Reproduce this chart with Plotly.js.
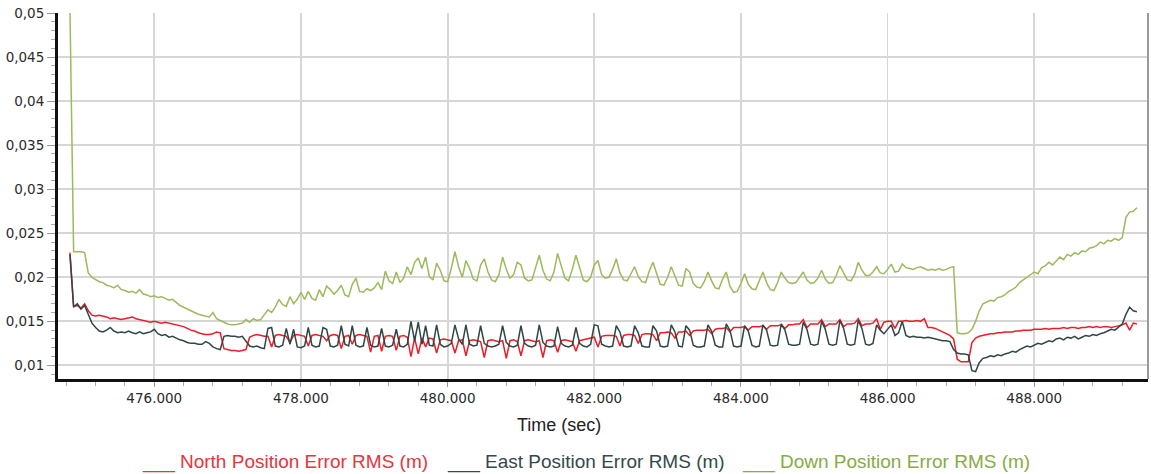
<!DOCTYPE html>
<html><head><meta charset="utf-8">
<script src="https://cdn.plot.ly/plotly-3.0.1.min.js"></script>
<style>html,body{margin:0;padding:0;background:#fff;}#chart{width:1151px;height:474px;}</style>
</head><body><div id="chart"></div>
<script>
// Series names (legend) and axis title
const seriesNames = ['North Position Error RMS (m)', 'East Position Error RMS (m)', 'Down Position Error RMS (m)'];
const xTitle = 'Time (sec)';
// Regular sampling of the time axis (seconds)
const timeStart = 474850;
const timeStep = 50;

const northRMS = [
.0228,.0167,.0168,.0165,.0170,.0162,.0157,.0156,.0157,.0156,
.0155,.0153,.0154,.0153,.0152,.0153,.0154,.0155,.0153,.0152,
.0151,.0150,.0149,.0150,.0149,.0148,.0149,.0148,.0147,.0146,
.0145,.0144,.0142,.0140,.0139,.0137,.0136,.0135,.0135,.0136,
.0138,.0137,.0119,.0118,.0117,.0117,.0116,.0117,.0118,.0132,
.0134,.0135,.0134,.0133,.0133,.0121,.0134,.0135,.0134,.0133,
.0126,.0134,.0135,.0134,.0133,.0122,.0134,.0135,.0134,.0133,
.0128,.0134,.0135,.0134,.0119,.0133,.0134,.0124,.0134,.0135,
.0134,.0133,.0115,.0133,.0134,.0116,.0133,.0134,.0133,.0117,
.0133,.0134,.0132,.0110,.0131,.0113,.0131,.0121,.0131,.0130,
.0114,.0129,.0130,.0129,.0128,.0114,.0128,.0129,.0111,.0128,
.0129,.0128,.0127,.0109,.0128,.0129,.0128,.0127,.0128,.0108,
.0128,.0129,.0127,.0111,.0128,.0129,.0128,.0127,.0128,.0109,
.0128,.0129,.0128,.0115,.0128,.0129,.0128,.0127,.0116,.0128,
.0129,.0130,.0131,.0132,.0121,.0133,.0134,.0134,.0134,.0133,
.0122,.0134,.0135,.0135,.0134,.0125,.0135,.0136,.0136,.0135,
.0128,.0137,.0137,.0138,.0137,.0131,.0138,.0138,.0139,.0134,
.0139,.0140,.0140,.0140,.0141,.0136,.0141,.0142,.0142,.0143,
.0138,.0143,.0143,.0143,.0144,.0140,.0144,.0144,.0144,.0145,
.0141,.0145,.0145,.0145,.0146,.0142,.0146,.0146,.0147,.0147,
.0152,.0143,.0147,.0147,.0147,.0152,.0144,.0147,.0147,.0147,
.0152,.0144,.0147,.0147,.0148,.0153,.0145,.0147,.0147,.0148,
.0153,.0141,.0149,.0150,.0150,.0142,.0150,.0150,.0151,.0150,
.0150,.0151,.0150,.0153,.0143,.0143,.0142,.0140,.0138,.0136,
.0134,.0130,.0107,.0104,.0104,.0104,.0126,.0131,.0133,.0134,
.0135,.0136,.0136,.0137,.0137,.0138,.0138,.0138,.0139,.0139,
.0140,.0140,.0140,.0141,.0141,.0141,.0142,.0141,.0142,.0142,
.0142,.0143,.0142,.0143,.0143,.0142,.0143,.0143,.0144,.0143,
.0144,.0143,.0144,.0144,.0143,.0144,.0145,.0146,.0148,.0140,
.0148,.0147
];

const eastRMS = [
.0226,.0166,.0170,.0164,.0168,.0158,.0148,.0143,.0139,.0138,
.0140,.0143,.0139,.0137,.0138,.0137,.0139,.0137,.0136,.0138,
.0136,.0137,.0138,.0141,.0136,.0134,.0135,.0132,.0133,.0131,
.0129,.0128,.0126,.0125,.0125,.0124,.0124,.0127,.0125,.0121,
.0119,.0118,.0133,.0134,.0133,.0133,.0132,.0133,.0128,.0122,
.0121,.0122,.0120,.0119,.0142,.0143,.0122,.0121,.0123,.0142,
.0124,.0141,.0121,.0120,.0122,.0143,.0123,.0121,.0122,.0143,
.0141,.0122,.0121,.0123,.0145,.0124,.0122,.0145,.0123,.0121,
.0122,.0143,.0123,.0121,.0122,.0142,.0122,.0121,.0123,.0141,
.0122,.0121,.0124,.0150,.0128,.0149,.0124,.0145,.0123,.0122,
.0146,.0124,.0121,.0122,.0125,.0146,.0130,.0124,.0146,.0124,
.0122,.0123,.0145,.0125,.0122,.0121,.0122,.0124,.0145,.0126,
.0122,.0121,.0123,.0145,.0125,.0122,.0121,.0123,.0146,.0126,
.0122,.0121,.0122,.0144,.0125,.0122,.0121,.0123,.0143,.0125,
.0122,.0121,.0124,.0146,.0145,.0124,.0122,.0121,.0122,.0145,
.0138,.0122,.0121,.0122,.0145,.0137,.0122,.0121,.0121,.0145,
.0139,.0122,.0121,.0122,.0146,.0138,.0122,.0121,.0145,.0140,
.0123,.0121,.0121,.0122,.0146,.0139,.0123,.0121,.0121,.0147,
.0140,.0122,.0121,.0122,.0145,.0139,.0123,.0121,.0122,.0146,
.0140,.0123,.0122,.0123,.0147,.0140,.0124,.0123,.0123,.0124,
.0149,.0141,.0124,.0123,.0124,.0150,.0141,.0124,.0123,.0124,
.0151,.0142,.0124,.0123,.0124,.0151,.0142,.0124,.0123,.0125,
.0146,.0140,.0136,.0141,.0146,.0134,.0137,.0150,.0134,.0132,
.0133,.0132,.0132,.0131,.0132,.0131,.0130,.0129,.0128,.0128,
.0127,.0118,.0114,.0113,.0113,.0112,.0094,.0093,.0103,.0108,
.0109,.0111,.0110,.0112,.0111,.0113,.0114,.0116,.0115,.0118,
.0120,.0122,.0121,.0123,.0125,.0124,.0126,.0128,.0127,.0130,
.0131,.0129,.0132,.0131,.0133,.0130,.0132,.0134,.0133,.0135,
.0134,.0136,.0137,.0139,.0141,.0140,.0143,.0147,.0158,.0166,
.0162,.0161
];

const downRMS = [
.0505,.0229,.0229,.0229,.0228,.0205,.0200,.0197,.0195,.0194,
.0191,.0190,.0188,.0191,.0186,.0185,.0183,.0184,.0182,.0186,
.0181,.0180,.0178,.0179,.0177,.0178,.0176,.0174,.0175,.0171,
.0168,.0166,.0164,.0162,.0160,.0158,.0157,.0156,.0155,.0160,
.0153,.0151,.0149,.0147,.0146,.0146,.0147,.0148,.0152,.0149,
.0153,.0151,.0152,.0158,.0163,.0160,.0166,.0175,.0169,.0167,
.0178,.0170,.0175,.0183,.0175,.0184,.0176,.0174,.0186,.0178,
.0190,.0186,.0181,.0185,.0191,.0180,.0178,.0192,.0199,.0184,
.0183,.0187,.0185,.0188,.0194,.0186,.0207,.0196,.0193,.0206,
.0194,.0199,.0212,.0203,.0217,.0222,.0210,.0223,.0201,.0197,
.0216,.0208,.0196,.0195,.0210,.0229,.0212,.0200,.0219,.0210,
.0198,.0196,.0214,.0221,.0206,.0197,.0195,.0203,.0223,.0209,
.0199,.0203,.0217,.0214,.0199,.0196,.0197,.0211,.0225,.0208,
.0198,.0196,.0206,.0227,.0213,.0199,.0196,.0209,.0225,.0211,
.0197,.0195,.0200,.0214,.0219,.0203,.0199,.0200,.0209,.0221,
.0205,.0197,.0196,.0204,.0212,.0201,.0195,.0194,.0207,.0217,
.0203,.0192,.0191,.0200,.0212,.0201,.0191,.0190,.0210,.0206,
.0193,.0189,.0188,.0195,.0206,.0196,.0188,.0187,.0198,.0206,
.0190,.0183,.0184,.0193,.0204,.0192,.0187,.0186,.0196,.0206,
.0194,.0186,.0185,.0194,.0206,.0199,.0194,.0193,.0194,.0200,
.0206,.0197,.0193,.0194,.0199,.0208,.0198,.0193,.0194,.0202,
.0213,.0205,.0197,.0196,.0203,.0217,.0208,.0202,.0202,.0206,
.0212,.0205,.0204,.0209,.0215,.0206,.0207,.0215,.0211,.0210,
.0209,.0211,.0212,.0210,.0208,.0209,.0208,.0210,.0208,.0209,
.0211,.0212,.0137,.0136,.0136,.0137,.0141,.0150,.0162,.0170,
.0172,.0174,.0173,.0177,.0178,.0180,.0184,.0186,.0189,.0194,
.0197,.0200,.0202,.0206,.0204,.0211,.0213,.0217,.0214,.0219,
.0223,.0220,.0226,.0224,.0228,.0226,.0230,.0229,.0233,.0234,
.0236,.0240,.0238,.0242,.0241,.0244,.0242,.0245,.0268,.0274,
.0275,.0279
];

const lineColors = ['#ee1c25', '#2f4646', '#9cba5c'];
const textColors = ['#e8343c', '#34494a', '#87ab45'];
const seriesValues = [northRMS, eastRMS, downRMS];

const traces = seriesValues.map((vals, k) => ({
  type: 'scatter', mode: 'lines',
  name: seriesNames[k],
  x0: timeStart, dx: timeStep,
  y: vals,
  line: {color: lineColors[k], width: 1.5},
  hoverinfo: 'skip'
}));

const legendX = [0.0752, 0.3550, 0.6257];
const annotations = [{
  xref: 'paper', yref: 'paper', x: 0.4596, y: -0.1257,
  xanchor: 'center', yanchor: 'middle', showarrow: false,
  text: xTitle,
  font: {family: 'Liberation Sans, Arial, sans-serif', size: 18, color: '#222'}
}].concat(seriesNames.map((n, k) => ({
  xref: 'paper', yref: 'paper', x: legendX[k], y: -0.2268,
  xanchor: 'left', yanchor: 'middle', showarrow: false,
  text: '___ ' + n,
  font: {family: 'Liberation Sans, Arial, sans-serif', size: 19, color: textColors[k]}
})));

const tickFont = {family: 'DejaVu Sans, Verdana, sans-serif', size: 13.5, color: '#2a2a2a'};

const layout = {
  width: 1151, height: 474,
  margin: {l: 58, r: 3, t: 13, b: 95, pad: 0},
  paper_bgcolor: '#ffffff', plot_bgcolor: '#ffffff',
  separators: ',.',
  showlegend: false,
  xaxis: {
    range: [474687, 489551],
    tick0: 476000, dtick: 2000, tickformat: ',d',
    tickfont: tickFont,
    showline: true, linecolor: '#111', linewidth: 3,
    ticks: 'outside', ticklen: 5, tickcolor: '#999', tickwidth: 1,
    showgrid: true, gridcolor: '#d6d6d6', gridwidth: 1.8,
    zeroline: false,
    minor: {tick0: 476000, dtick: 400, ticks: 'outside', ticklen: 4, tickcolor: '#aaa', showgrid: false}
  },
  yaxis: {
    range: [0.008456, 0.05],
    tick0: 0, dtick: 0.005, tickformat: '~g',
    tickfont: tickFont,
    showline: true, linecolor: '#111', linewidth: 3,
    ticks: 'outside', ticklen: 8, tickcolor: '#999', tickwidth: 1,
    showgrid: true, gridcolor: '#d6d6d6', gridwidth: 1.8,
    zeroline: false,
    minor: {tick0: 0, dtick: 0.001, ticks: 'outside', ticklen: 4, tickcolor: '#aaa', showgrid: false}
  },
  shapes: [{type: 'line', xref: 'paper', yref: 'paper', x0: 1, x1: 1, y0: 0, y1: 1,
            line: {color: '#9a9a9a', width: 2}}],
  annotations: annotations
};

Plotly.newPlot('chart', traces, layout, {staticPlot: true, displayModeBar: false});
</script>
</body></html>
